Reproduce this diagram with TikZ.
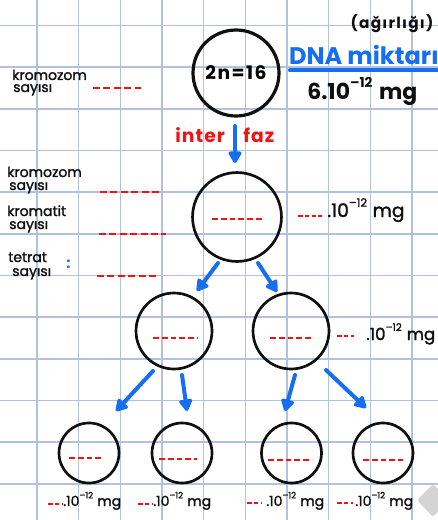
\documentclass[tikz,border=0pt]{standalone}
\usepackage{fontspec}
\setmainfont{Poppins}
\newfontfamily\inkfont{Poppins}[FakeBold=1.5]
\usetikzlibrary{arrows.meta,calc}

\definecolor{gridc}{RGB}{178,194,222}
\definecolor{pen}{RGB}{15,15,15}
\definecolor{redpen}{RGB}{242,18,18}
\definecolor{bluepen}{RGB}{22,110,240}
\definecolor{handle}{RGB}{212,212,212}

% ".10^{-12} mg" written in the current font
\newcommand\tenmg{.10\raisebox{0.55em}{\scalebox{0.62}{–12}}\hspace{0.3em}mg}

\begin{document}
\begin{tikzpicture}[x=0.75pt,y=-0.75pt,
  cell/.style={circle,draw=pen,line width=2pt,inner sep=0pt},
  flow/.style={draw=bluepen,line width=3pt,line cap=round,
    -{Triangle[length=10pt,width=11pt,round]}},
  blankL/.style={draw=redpen,line width=2.2pt,dash pattern=on 5.2pt off 2.6pt},
  blankS/.style={draw=redpen,line width=1.6pt,dash pattern=on 4.4pt off 2.2pt},
  blankT/.style={draw=redpen,line width=1.5pt,dash pattern=on 3.4pt off 1.7pt},
  lbl/.style={inner sep=0pt,anchor=base west,text=pen,font=\inkfont\fontsize{10.5}{10.5}\selectfont},
  mass/.style={inner sep=0pt,anchor=base west,text=pen},
]
\useasboundingbox (0,0) rectangle (438,520);
\fill[white] (0,0) rectangle (438,520);

% squared paper
\foreach \i in {0,...,9}
  \draw[gridc,line width=1.1pt] ({37+41.67*\i},0) -- ({37+41.67*\i},520);
\foreach \j in {0,...,11}
  \draw[gridc,line width=1.1pt] (0,{25.5+41.67*\j}) -- (438,{25.5+41.67*\j});

% cells
\node[cell,line width=2.4pt,minimum size=64.5pt,
  font=\bfseries\fontsize{14}{14}\selectfont\addfontfeatures{LetterSpace=8}] (c1) at (236,73) {2n=16};
\node[cell,minimum size=66.7pt] (c2) at (237,217) {};
\node[cell,minimum size=57pt] (c3a) at (174,331) {};
\node[cell,minimum size=57pt] (c3b) at (291,331) {};
\node[cell,minimum size=45pt] (b1) at (89,453) {};
\node[cell,minimum size=45pt] (b2) at (182,453) {};
\node[cell,minimum size=45pt] (b3) at (291.5,453) {};
\node[cell,minimum size=45pt] (b4) at (383,453) {};

% blanks inside the cells
\draw[blankS] (212,219) -- (263,219);
\draw[blankS] (153,338) -- (198,338);
\draw[blankS] (270,338) -- (313,338);
\draw[blankS] (69,458) -- (104,458);
\draw[blankS] (159,459) -- (197,459);
\draw[blankS] (268,460) -- (312,460);
\draw[blankS] (363,460) -- (403,460);

% divisions
\draw[flow] ($(c1.center)+(-1,53)$) -- ($(c2.center)+(-2,-54)$);
\draw[flow] ($(c2.center)+(-19,46)$) -- ($(c3a.center)+(23,-40)$);
\draw[flow] ($(c2.center)+(21,46)$) -- ($(c3b.center)+(-14,-39)$);
\draw[flow] ($(c3a.center)+(-21,40)$) -- ($(b1.center)+(27,-42)$);
\draw[flow] ($(c3a.center)+(8,44)$) -- ($(b2.center)+(5,-42)$);
\draw[flow] ($(c3b.center)+(4,44)$) -- ($(b3.center)+(-6.5,-42)$);
\draw[flow] ($(c3b.center)+(35,39)$) -- ($(b4.center)+(-17,-45)$);

% interphase label
\node[mass,text=redpen,font=\bfseries\fontsize{14}{14}\selectfont\addfontfeatures{LetterSpace=6}] (inter) at (175,143) {inter};
\node[mass,text=redpen,font=\bfseries\fontsize{14}{14}\selectfont\addfontfeatures{LetterSpace=6}] (faz) at (243,143) {faz};

% DNA header
\node[mass,anchor=base,font=\bfseries\fontsize{11.5}{11.5}\selectfont\addfontfeatures{LetterSpace=8}] (agr) at (392,29) {(ağırlığı)};
\node[mass,anchor=base,text=bluepen,font=\bfseries\fontsize{18}{18}\selectfont] (dna) at (364,65) {DNA miktarı};
\draw[bluepen,line width=3pt,line cap=round] (290,70.5) -- (437,70.5);
\node[mass,font=\bfseries\fontsize{16.5}{16.5}\selectfont] (m0) at (307,100) {6\tenmg};

% left labels
\node[lbl] (k1a) at (12,80) {kromozom};
\node[lbl] (k1b) at (13,92) {sayısı};
\draw[blankL] (93,88) -- (141,88);

\node[lbl] (k2a) at (7,177) {kromozom};
\node[lbl] (k2b) at (9,190) {sayısı};
\draw[blankL] (100,192) -- (162,192);

\node[lbl] (k3a) at (7,216) {kromatit};
\node[lbl] (k3b) at (9,229) {sayısı};
\draw[blankL] (99,234) -- (166,234);

\node[lbl] (k4a) at (8,262) {tetrat};
\node[lbl] (k4b) at (12,276) {sayısı};
\node[mass,text=bluepen,font=\bfseries\fontsize{11}{11}\selectfont] (colon) at (66,268) {:};
\draw[blankL] (97,276) -- (156,276);

% DNA amounts
\draw[blankT] (298,216) -- (322,216);
\node[mass,font=\inkfont\fontsize{14}{14}\selectfont] (m2) at (327,217) {\tenmg};
\draw[blankT] (337,336) -- (354,336);
\node[mass,font=\inkfont\fontsize{12.5}{12.5}\selectfont] (m3) at (366,340) {\tenmg};

\draw[blankT] (48,504) -- (62,504);
\node[mass,font=\inkfont\fontsize{10.5}{10.5}\selectfont] (m4a) at (63,506) {\tenmg};
\draw[blankT] (138,504) -- (152,504);
\node[mass,font=\inkfont\fontsize{10.5}{10.5}\selectfont] (m4b) at (153,506) {\tenmg};
\draw[blankT] (247,503) -- (262,503);
\node[mass,font=\inkfont\fontsize{10.5}{10.5}\selectfont] (m4c) at (266,506) {\tenmg};
\draw[blankT] (337,503) -- (353,503);
\node[mass,font=\inkfont\fontsize{10.5}{10.5}\selectfont] (m4d) at (355,506) {\tenmg};

% corner handle
\fill[handle,rounded corners=2pt] (417,500) -- (433,484) -- (449,500) -- (433,517) -- cycle;
\end{tikzpicture}
\end{document}
